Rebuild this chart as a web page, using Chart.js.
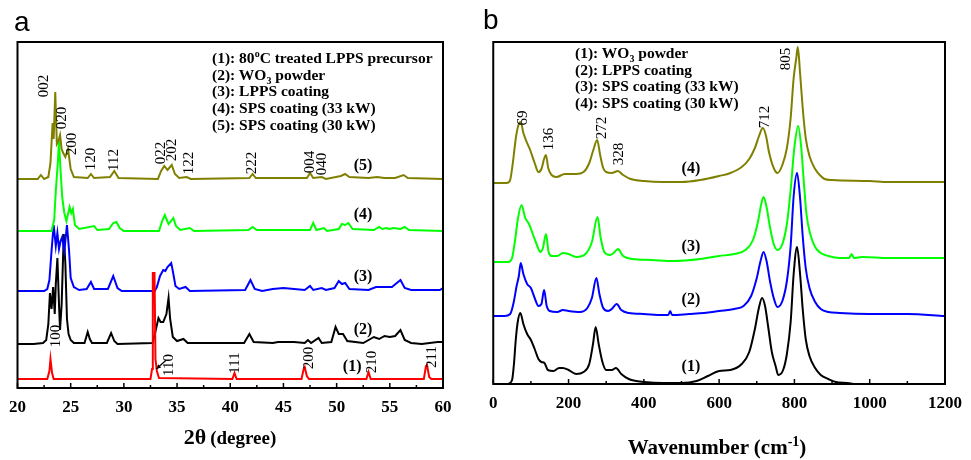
<!DOCTYPE html>
<html><head><meta charset="utf-8">
<script src="https://cdn.jsdelivr.net/npm/chart.js@4.4.0/dist/chart.umd.min.js"></script>
<style>
html,body{margin:0;padding:0;background:#fff;}
#wrap{position:relative;width:971px;height:460px;overflow:hidden;background:#fff;}
canvas{position:absolute;top:0;}
.t{position:absolute;white-space:nowrap;font-family:"Liberation Serif","Times New Roman",serif;font-weight:bold;color:#000;}
.leg{font-size:15.5px;line-height:16.7px;}
.let{position:absolute;font-family:"Liberation Sans",Arial,sans-serif;font-size:28px;line-height:28px;color:#000;}
sup,sub{line-height:0;}
.leg sup,.leg sub{font-size:10px;}
</style></head>
<body><div id="wrap">
<canvas id="c1" width="480" height="460" style="left:0"></canvas>
<canvas id="c2" width="491" height="460" style="left:480px"></canvas>
<div class="let" style="left:14px;top:8px">a</div>
<div class="let" style="left:483px;top:6px">b</div>
<div class="t leg" style="left:212px;top:50px">(1): 80<sup>o</sup>C treated LPPS precursor<br>(2): WO<sub>3</sub> powder<br>(3): LPPS coating<br>(4): SPS coating (33 kW)<br>(5): SPS coating (30 kW)</div>
<div class="t leg" style="left:575px;top:45px">(1): WO<sub>3</sub> powder<br>(2): LPPS coating<br>(3): SPS coating (33 kW)<br>(4): SPS coating (30 kW)</div>
<div class="t" style="left:230px;top:425px;line-height:24px;transform:translateX(-50%)"><span style="font-size:22px">2θ</span> <span style="font-size:19px">(degree)</span></div>
<div class="t" style="left:717px;top:435px;line-height:24px;font-size:21px;transform:translateX(-50%)">Wavenumber (cm<sup style="font-size:14px">-1</sup>)</div>
</div>
<script>
// ---------- XRD (panel a): [2theta, intensity above own baseline] ----------
const xrdNames = ['(1)','(2)','(3)','(4)','(5)'];
const xrdColors = ['#ff0000','#000000','#0000ff','#00ff00','#808000'];
const xrdOffsets = [9, 44, 97, 157, 209];
const xrdDrawOrder = [0, 4, 3, 2, 1];
const xrd1 = [[20,0],[22.8,0],[23.0,8],[23.1,20],[23.25,6],[23.4,0],[32.5,0],[32.65,10],[32.72,106],[32.88,106],[32.97,20],[33.1,8],[33.3,1],[40.2,0],[40.4,6],[40.6,0],[46.7,0],[46.9,10],[47.0,12],[47.2,3],[47.4,0],[52.8,0],[53.0,7],[53.2,0],[58.2,0],[58.4,13],[58.5,14],[58.7,2],[58.9,0],[60,0]];
const xrd2 = [[20,0],[21.5,0],[22.4,1],[22.7,4],[22.9,20],[23.05,51],[23.2,35],[23.35,57],[23.5,30],[23.6,60],[23.75,86],[23.9,40],[24.0,14],[24.15,40],[24.35,110],[24.5,80],[24.65,25],[24.8,10],[25.0,4],[25.3,1],[26.3,1],[26.6,12],[26.8,5],[27.0,1],[28.4,1],[28.8,11],[29.1,3],[29.4,0],[32.7,1],[33.0,14],[33.25,26],[33.45,22],[33.7,22],[34.0,30],[34.2,46],[34.35,25],[34.6,7],[35.0,3],[35.6,5],[36.0,1],[41.3,1],[41.8,10],[42.2,2],[44.0,1],[44.5,2],[46.0,2],[47.0,1],[47.3,4],[47.6,1],[48.3,6],[48.6,1],[49.5,2],[49.9,17],[50.2,10],[50.6,10],[51.0,3],[52.5,1],[53.5,7],[54.0,5],[54.5,8],[55.0,7],[55.5,8],[56.0,14],[56.4,4],[57.0,1],[58.0,0],[59.5,2],[60,2]];
const xrd3 = [[20,0],[22.5,0],[22.8,2],[23.0,11],[23.2,40],[23.4,66],[23.6,45],[23.75,58],[23.9,42],[24.05,50],[24.2,54],[24.4,40],[24.65,66],[24.85,40],[25.0,13],[25.3,4],[25.8,1],[26.5,2],[26.9,9],[27.2,2],[28.5,2],[29.0,15],[29.4,3],[29.8,0],[32.9,0],[33.1,4],[33.4,15],[33.7,21],[33.9,20],[34.1,24],[34.45,28],[34.6,20],[34.85,5],[35.2,2],[35.8,4],[36.2,0],[41.4,1],[41.9,11],[42.3,2],[43.0,0],[44.0,2],[45.0,3],[46.0,2],[47.0,1],[47.5,5],[47.8,1],[48.6,3],[49.0,1],[49.8,3],[50.2,10],[50.5,7],[50.8,8],[51.2,2],[53.0,1],[53.7,4],[54.5,4],[55.2,4],[56.0,11],[56.4,3],[57.0,1],[59.0,1],[59.7,1],[60,3]];
const xrd4 = [[20,0],[23.2,0],[23.45,11],[23.6,40],[23.8,70],[23.9,90],[24.05,60],[24.2,34],[24.4,18],[24.6,10],[24.9,24],[25.05,18],[25.2,22],[25.4,6],[25.8,2],[27.2,5],[27.5,1],[28.6,2],[29.0,8],[29.3,9],[29.6,3],[30,0],[33.3,0],[33.6,10],[33.85,16],[34.2,7],[34.65,13],[34.9,5],[35.3,1],[36.2,3],[36.6,0],[41.7,1],[42.1,4],[42.5,1],[47.5,1],[47.8,8],[48.1,1],[48.8,3],[49.1,0],[50.2,2],[50.5,7],[50.8,6],[51.1,8],[51.5,2],[53.5,1],[54.0,4],[54.3,2],[54.7,3],[55.0,2],[55.3,3],[56.0,2],[56.4,4],[56.8,1],[60,0]];
const xrd5 = [[20,0],[21.9,0],[22.2,4],[22.5,0],[22.9,2],[23.1,16],[23.3,56],[23.4,40],[23.55,87],[23.7,35],[23.85,38],[24.0,44],[24.15,30],[24.3,26],[24.5,22],[24.75,30],[25.0,10],[25.3,2],[26.6,1],[26.9,5],[27.2,1],[28.7,2],[29.1,8],[29.5,1],[33.2,0],[33.5,8],[33.8,13],[34.1,9],[34.5,14],[34.8,5],[35.2,1],[35.9,2],[36.3,0],[41.8,1],[42.1,5],[42.4,1],[47.2,1],[47.5,6],[47.8,1],[48.6,2],[49.0,0],[50.4,3],[50.8,5],[51.2,2],[53.0,1],[53.8,2],[54.5,1],[55.5,1],[56.3,4],[56.7,1],[60,0]];
const xrdSeries = [xrd1, xrd2, xrd3, xrd4, xrd5];
// peak index labels: [text, 2theta, height]
const xrdPeakLabels = [['002',22.54,302],['020',24.23,270],['200',25.16,244],['120',26.95,229],['112',29.11,228],['022',33.52,235],['202',34.55,238],['122',36.15,225],['222',42.07,225],['004',47.51,226],['040',48.64,224],['100',23.66,52],['110',34.27,23],['111',40.47,25],['200',47.42,30],['210',53.33,26],['211',58.97,31]];
const xrdTagPos = [[51.46,21],[52.49,58],[52.49,111],[52.49,173],[52.49,222]];
const xrdTicks = {min:20, max:60, step:2.5, labelEvery:5};

// ---------- Raman (panel b): [wavenumber, intensity above own baseline] ----------
const ramanColors = ['#000000','#0000ff','#00ff00','#808000'];
const ramanOffsets = [0, 68, 122, 201];
const raman1 = [[40,0],[50,4],[55,20],[60,45],[65,62],[72,71],[80,60],[90,50],[100,44],[110,35],[120,25],[128,22],[136,21],[145,14],[160,13],[175,16],[185,16],[200,14],[220,10],[240,12],[255,20],[265,40],[272,57],[280,40],[290,22],[300,14],[315,14],[326,16],[340,10],[360,5],[380,3],[400,2],[450,1],[500,1],[540,3],[570,8],[600,13],[630,14],[660,20],[680,32],[695,55],[705,75],[714,86],[722,78],[730,58],[740,32],[750,18],[757,9],[770,14],[780,30],[790,62],[798,110],[807,137],[815,110],[822,75],[830,45],[840,28],[855,16],[870,9],[890,5],[910,2],[940,1],[960,0]];
const raman2 = [[0,0],[30,0],[45,2],[55,15],[62,30],[68,40],[73,53],[80,42],[90,32],[100,28],[110,18],[120,10],[128,12],[135,26],[142,10],[150,5],[170,4],[185,6],[200,5],[230,4],[250,8],[262,18],[274,38],[282,22],[292,8],[305,5],[315,7],[328,12],[340,6],[360,3],[400,2],[450,1],[465,1],[470,5],[475,1],[520,2],[560,3],[600,5],[640,7],[665,10],[685,20],[700,38],[710,55],[718,64],[726,55],[735,35],[745,18],[755,9],[768,15],[780,35],[790,70],[798,120],[807,143],[815,118],[822,80],[830,48],[840,28],[855,14],[870,7],[890,4],[920,3],[1000,2],[1100,2],[1200,0]];
const raman3 = [[0,0],[40,0],[50,4],[58,22],[65,42],[75,57],[85,44],[95,38],[105,28],[115,18],[125,10],[132,14],[140,28],[147,10],[155,6],[170,6],[185,9],[200,8],[220,5],[245,8],[262,20],[277,45],[285,25],[295,10],[310,7],[320,9],[331,13],[345,6],[370,3],[420,2],[480,1],[550,3],[600,6],[640,8],[670,12],[690,22],[703,40],[712,58],[718,65],[726,55],[735,35],[745,18],[755,12],[768,18],[780,38],[790,72],[800,115],[810,136],[818,115],[825,80],[832,48],[842,28],[855,15],[870,9],[890,6],[920,4],[945,4],[952,8],[958,4],[980,5],[1050,4],[1200,4]];
const raman4 = [[0,0],[35,0],[44,2],[52,20],[60,45],[67,58],[73,61],[80,50],[90,40],[98,33],[110,20],[120,11],[128,14],[135,24],[140,28],[146,15],[155,8],[168,6],[190,9],[220,9],[240,11],[255,20],[265,32],[276,43],[284,28],[292,15],[300,11],[315,10],[331,12],[345,8],[365,4],[400,2],[450,1],[500,1],[550,3],[600,7],[630,10],[660,16],[680,24],[695,35],[706,47],[716,55],[724,48],[733,30],[745,15],[755,10],[768,18],[780,35],[790,65],[798,105],[805,125],[809,136],[815,110],[822,75],[830,45],[840,27],[855,14],[870,7],[880,4],[900,3],[1000,2],[1050,1],[1200,1]];
const ramanSeries = [raman1, raman2, raman3, raman4];
const ramanPeakLabels = [['69',80,266],['136',147,245],['272',290,256],['328',334,230],['712',722,267],['805',778,325]];
const ramanTagPos = [[525,17],[525,84],[525,137],[525,215]];
const ramanTicks = {min:0, max:1200, step:100, labelEvery:200};

const SERIF = '"Liberation Serif","Times New Roman",serif';

function decor(peakLabels, tagPos, extra){
  return {
    id:'decor',
    afterDraw(chart){
      const {ctx, chartArea:a, scales:{x,y}} = chart;
      ctx.save();
      ctx.strokeStyle='#000'; ctx.lineWidth=2;
      ctx.strokeRect(a.left, a.top, a.right-a.left, a.bottom-a.top);
      ctx.lineWidth=1.5;
      x.ticks.forEach(t=>{
        const px=x.getPixelForValue(t.value); const major=t.label!=='';
        ctx.beginPath(); ctx.moveTo(px,a.bottom); ctx.lineTo(px,a.bottom-(major?5:3)); ctx.stroke();
      });
      ctx.fillStyle='#000';
      ctx.font='15px '+SERIF; ctx.textAlign='center'; ctx.textBaseline='middle';
      peakLabels.forEach(([txt,xv,yv])=>{
        ctx.save(); ctx.translate(x.getPixelForValue(xv), y.getPixelForValue(yv));
        ctx.rotate(-Math.PI/2); ctx.fillText(txt,0,0); ctx.restore();
      });
      ctx.font='bold 16px '+SERIF;
      tagPos.forEach(([xv,yv],i)=>{ ctx.fillText('('+(i+1)+')', x.getPixelForValue(xv), y.getPixelForValue(yv)); });
      if(extra) extra(ctx,x,y);
      ctx.restore();
    }
  };
}

function baseOptions(ticks, padding, axisH, ymax){
  return {
    responsive:false, animation:false, devicePixelRatio:1,
    layout:{padding},
    plugins:{legend:{display:false}, tooltip:{enabled:false}},
    scales:{
      x:{type:'linear', min:ticks.min, max:ticks.max,
         grid:{display:false, drawTicks:false}, border:{display:false},
         ticks:{stepSize:ticks.step, autoSkip:false, maxRotation:0, padding:9, color:'#000',
                font:{family:SERIF, weight:'bold', size:17},
                callback:(v)=> (Math.abs(v % ticks.labelEvery) < 1e-6) ? String(v) : ''},
         afterFit:(s)=>{ s.height = axisH; }},
      y:{display:false, min:0, max:ymax}
    }
  };
}

new Chart(document.getElementById('c1'), {
  type:'line',
  data:{datasets: xrdSeries.map((s,i)=>({
    data: s.map(p=>({x:p[0], y:p[1]+xrdOffsets[i]})),
    borderColor: xrdColors[i], borderWidth:2, pointRadius:0, tension:0, fill:false, order: xrdDrawOrder[i]
  }))},
  options: baseOptions(xrdTicks, {left:17,right:37,top:42,bottom:0}, 72, 346),
  plugins:[decor(xrdPeakLabels, xrdTagPos, (ctx,x,y)=>{
    const x0=x.getPixelForValue(33.99), y0=y.getPixelForValue(28), x1=x.getPixelForValue(33.05), y1=y.getPixelForValue(19);
    ctx.strokeStyle='#000'; ctx.lineWidth=1.2;
    ctx.beginPath(); ctx.moveTo(x0,y0); ctx.lineTo(x1,y1); ctx.stroke();
    const ang=Math.atan2(y1-y0,x1-x0);
    ctx.beginPath(); ctx.moveTo(x1,y1);
    ctx.lineTo(x1-5*Math.cos(ang-0.45), y1-5*Math.sin(ang-0.45));
    ctx.lineTo(x1-5*Math.cos(ang+0.45), y1-5*Math.sin(ang+0.45));
    ctx.closePath(); ctx.fill();
  })]
});

new Chart(document.getElementById('c2'), {
  type:'line',
  data:{datasets: ramanSeries.map((s,i)=>({
    data: s.map(p=>({x:p[0], y:p[1]+ramanOffsets[i]})),
    borderColor: ramanColors[i], borderWidth:2, pointRadius:0, cubicInterpolationMode:'monotone', fill:false
  }))},
  options: baseOptions(ramanTicks, {left:5,right:22,top:42,bottom:0}, 76, 342),
  plugins:[decor(ramanPeakLabels, ramanTagPos)]
});
</script>
</body></html>
